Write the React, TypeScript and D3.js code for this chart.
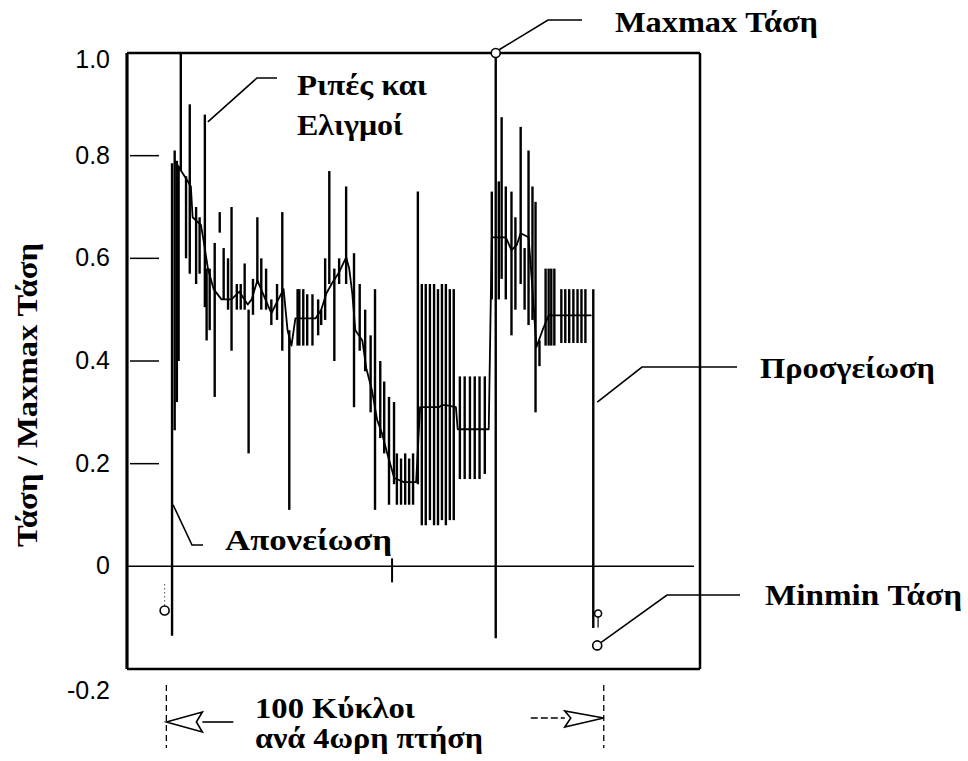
import * as d3 from "d3";

const width = 968;
const height = 761;

const yTicks = [1.0, 0.8, 0.6, 0.4, 0.2, 0, -0.2];
const yTickLabels = ["1.0", "0.8", "0.6", "0.4", "0.2", "0", "-0.2"];

// load cycles: position in cycles (100 = one 4h flight), peak and trough of each cycle
const rangeCycle = [
  1.3, 1.9, 2.4, 2.8, 3.3, 4.5, 5.35, 6.8, 7.6, 8.8, 9.2, 9.9, 11.05, 12.2, 13.1, 14.1, 14.9, 16.1, 17.0, 17.9,
  18.8, 19.8, 20.8, 21.7, 22.8, 24.0, 25.3, 26.5, 28.1, 30.0, 30.4, 31.3, 32.2, 33.4, 34.7, 35.4, 36.3, 37.25, 38.4, 39.5,
  41.1, 42.9, 44.2, 45.45, 46.7, 47.7, 48.9, 49.8, 50.9, 52.05, 52.7, 53.65, 54.6, 55.5, 56.4, 57.5, 58.4, 59.3, 60.25, 61.2,
  62.1, 63.0, 63.9, 64.8, 65.7, 67.1, 68.2, 69.4, 70.5, 71.6, 72.8, 74.4, 75.3, 76.0, 76.65, 77.6, 78.9, 79.8, 81.0, 81.9,
  82.8, 83.7, 84.4, 85.3, 86.7, 87.4, 88.0, 88.7, 90.3, 91.2, 92.1, 93.05, 94.0, 94.9, 95.8, 97.6,
];
const rangeHigh = [
  0.785, 0.81, 0.79, 0.78, 1.0, 0.76, 0.9, 0.7, 0.68, 0.88, 0.58, 0.58, 0.63, 0.69, 0.62, 0.6, 0.7, 0.55, 0.55, 0.59,
  0.5, 0.56, 0.68, 0.6, 0.58, 0.52, 0.55, 0.69, 0.46, 0.54, 0.54, 0.54, 0.53, 0.53, 0.52, 0.5, 0.6, 0.77, 0.58, 0.6,
  0.74, 0.61, 0.55, 0.5, 0.45, 0.54, 0.4, 0.36, 0.33, 0.32, 0.22, 0.21, 0.22, 0.21, 0.22, 0.73, 0.55, 0.55, 0.55, 0.55,
  0.54, 0.55, 0.55, 0.54, 0.54, 0.37, 0.37, 0.37, 0.37, 0.37, 0.37, 0.73, 1.0, 0.75, 0.875, 0.74, 0.73, 0.68, 0.856, 0.62,
  0.81, 0.74, 0.71, 0.44, 0.58, 0.58, 0.58, 0.58, 0.54, 0.54, 0.54, 0.54, 0.54, 0.54, 0.54, 0.54,
];
const rangeLow = [
  -0.135, 0.265, 0.32, 0.4, 0.77, 0.6, 0.57, 0.55, 0.57, 0.505, 0.44, 0.46, 0.33, 0.65, 0.52, 0.5, 0.42, 0.5, 0.5, 0.5,
  0.22, 0.49, 0.55, 0.5, 0.5, 0.47, 0.48, 0.42, 0.11, 0.43, 0.43, 0.43, 0.43, 0.43, 0.45, 0.47, 0.48, 0.55, 0.4, 0.55,
  0.55, 0.31, 0.42, 0.38, 0.3, 0.11, 0.25, 0.22, 0.12, 0.16, 0.12, 0.12, 0.12, 0.12, 0.12, 0.16, 0.08, 0.08, 0.09, 0.08,
  0.08, 0.09, 0.08, 0.09, 0.09, 0.17, 0.17, 0.17, 0.17, 0.17, 0.18, 0.52, -0.14, 0.52, 0.56, 0.52, 0.45, 0.5, 0.55, 0.5,
  0.47, 0.48, 0.3, 0.39, 0.43, 0.43, 0.43, 0.43, 0.435, 0.435, 0.435, 0.435, 0.435, 0.435, 0.435, -0.12,
];

// mean stress of the flight segments
const meanCycle = [
  1.9, 4.9, 5.6, 6.0, 7.9, 8.5, 9.5, 10.8, 12.6, 14.9, 16.7, 18.6, 19.5, 20.8, 22.4, 24.0, 25.9, 26.8, 27.7, 28.6,
  29.5, 34.1, 35.4, 36.6, 37.9, 39.5, 41.1, 41.8, 42.5, 43.2, 44.8, 45.7, 47.0, 48.2, 49.3, 50.5, 52.1, 54.3, 57.1, 58.0,
  62.3, 63.0, 63.9, 66.2, 66.6, 73.7, 74.4, 75.5, 77.6, 78.9, 80.1, 81.0, 82.8, 83.7, 84.6, 86.0, 87.4, 97.2,
];
const meanValue = [
  0.79, 0.75, 0.74, 0.68, 0.665, 0.635, 0.58, 0.54, 0.52, 0.52, 0.535, 0.51, 0.52, 0.557, 0.525, 0.493, 0.525, 0.54, 0.46, 0.43,
  0.483, 0.483, 0.5, 0.532, 0.552, 0.573, 0.602, 0.58, 0.532, 0.46, 0.44, 0.386, 0.343, 0.285, 0.259, 0.22, 0.172, 0.164, 0.164, 0.31,
  0.31, 0.314, 0.314, 0.31, 0.267, 0.267, 0.641, 0.641, 0.641, 0.616, 0.626, 0.649, 0.641, 0.54, 0.427, 0.46, 0.489, 0.489,
];

// marked extremes: ground point, maxmax, minmin, ground point after landing
const extremeCycle = [-0.4, 75.3, 98.5, 98.7];
const extremeValue = [-0.086, 1.0, -0.154, -0.092];

const midMarkCycle = 51.6;

const xScale = d3.scaleLinear().domain([-9, 122]).range([127, 700]);
const yScale = d3.scaleLinear().domain([-0.2, 1.0]).range([669, 53]);

const serif = "'Liberation Serif', 'Times New Roman', serif";
const sans = "'Liberation Sans', Arial, sans-serif";

function Label({ x, y, text, len }: { x: number; y: number; text: string; len: number }) {
  return (
    <text x={x} y={y} fontFamily={serif} fontWeight="bold" fontSize={30} textLength={len} lengthAdjust="spacingAndGlyphs">
      {text}
    </text>
  );
}

export default function App() {
  const meanPath = d3
    .line<number>()
    .x((_, i) => xScale(meanCycle[i]))
    .y((d) => yScale(d))(meanValue);

  const x0 = xScale(-9);
  const x1 = xScale(122);
  const yTop = yScale(1.0);
  const yBot = yScale(-0.2);
  const yZero = yScale(0);

  const maxX = xScale(extremeCycle[1]);
  const maxY = yScale(extremeValue[1]);
  const minX = xScale(extremeCycle[2]);
  const minY = yScale(extremeValue[2]);
  const gustX = xScale(8.8);
  const gustY = yScale(0.86);
  const toX = xScale(rangeCycle[0]);
  const toY = yScale(0.12);
  const ldX = xScale(rangeCycle[rangeCycle.length - 1]);
  const ldY = yScale(0.32);

  const bL = xScale(0);
  const bR = xScale(100);

  return (
    <svg width={width} height={height} style={{ position: "absolute", left: 0, top: 0, background: "#fff" }}>
      {/* plot frame */}
      <line x1={x0} x2={x1} y1={yTop} y2={yTop} stroke="#000" strokeWidth={2.5} />
      <line x1={x0} x2={x1} y1={yBot} y2={yBot} stroke="#000" strokeWidth={2.5} />
      <line x1={x0} x2={x0} y1={yTop} y2={yBot} stroke="#000" strokeWidth={3.2} />
      <line x1={x1} x2={x1} y1={yTop} y2={yBot} stroke="#000" strokeWidth={2.5} />
      <line x1={x0} x2={x1 - 6} y1={yZero} y2={yZero} stroke="#000" strokeWidth={1.5} />

      {/* y ticks */}
      {yTicks.map((t, i) => (
        <g key={`t-${t}`}>
          {t > 0 && t < 1 ? <line x1={x0 + 3} x2={x0 + 32} y1={yScale(t)} y2={yScale(t)} stroke="#000" strokeWidth={1.5} /> : null}
          <text
            x={110}
            y={yScale(t) + (t === 1 ? 15 : t < 0 ? 30 : 8)}
            textAnchor="end"
            fontFamily={sans}
            fontSize={25}
          >
            {yTickLabels[i]}
          </text>
        </g>
      ))}

      {/* load cycles */}
      {rangeCycle.map((c, i) => (
        <line key={`r-${i}`} x1={xScale(c)} x2={xScale(c)} y1={yScale(rangeHigh[i])} y2={yScale(rangeLow[i])} stroke="#000" strokeWidth={2.4} />
      ))}
      <path d={meanPath ?? ""} fill="none" stroke="#000" strokeWidth={1.8} strokeLinejoin="round" />

      <line x1={xScale(midMarkCycle)} x2={xScale(midMarkCycle)} y1={yZero - 8} y2={yZero + 16} stroke="#000" strokeWidth={2} />

      {/* extremes */}
      <line x1={xScale(extremeCycle[0])} x2={xScale(extremeCycle[0])} y1={yZero + 18} y2={yScale(extremeValue[0]) - 4} stroke="#000" strokeWidth={1} strokeDasharray="1 3" />
      <line x1={xScale(extremeCycle[3])} x2={xScale(extremeCycle[3])} y1={yScale(extremeValue[3]) + 3} y2={yScale(extremeValue[3]) + 14} stroke="#000" strokeWidth={1.2} />
      {extremeCycle.map((c, i) => (
        <circle key={`e-${i}`} cx={xScale(c)} cy={yScale(extremeValue[i])} r={i === 3 ? 3.5 : 4.5} fill="#fff" stroke="#000" strokeWidth={1.6} />
      ))}

      {/* annotations */}
      <polyline points={`${maxX + 3},${maxY - 3} 548,20 582,20`} fill="none" stroke="#000" strokeWidth={1.6} />
      <Label x={615} y={32} text="Maxmax Τάση" len={203} />

      <polyline points={`${gustX + 3},${gustY - 3} 257,78 277,78`} fill="none" stroke="#000" strokeWidth={1.6} />
      <Label x={297} y={95} text="Ριπές και" len={130} />
      <Label x={297} y={135} text="Ελιγμοί" len={106} />

      <polyline points={`${toX + 1},${toY} 192,545 203,545`} fill="none" stroke="#000" strokeWidth={1.6} />
      <Label x={225} y={550} text="Απονείωση" len={167} />

      <polyline points={`${ldX + 4},${ldY} 642,367 737,367`} fill="none" stroke="#000" strokeWidth={1.6} />
      <Label x={760} y={378} text="Προσγείωση" len={175} />

      <polyline points={`${minX + 4},${minY - 3} 667,595 740,595`} fill="none" stroke="#000" strokeWidth={1.6} />
      <Label x={765} y={605} text="Minmin Τάση" len={197} />

      {/* y title */}
      <text
        transform="translate(37, 395) rotate(-90)"
        textAnchor="middle"
        fontFamily={serif}
        fontWeight="bold"
        fontSize={30}
        textLength={304}
        lengthAdjust="spacingAndGlyphs"
      >
        Τάση / Maxmax Τάση
      </text>

      {/* flight length bracket */}
      <line x1={bL} x2={bL} y1={685} y2={748} stroke="#000" strokeWidth={1.3} strokeDasharray="6 4" />
      <line x1={bR} x2={bR} y1={685} y2={748} stroke="#000" strokeWidth={1.3} strokeDasharray="6 4" />
      <polygon points={`${bL},722 ${bL + 36},712 ${bL + 30},722 ${bL + 36},732`} fill="#fff" stroke="#000" strokeWidth={1.6} />
      <line x1={bL + 36} x2={bL + 67} y1={722} y2={722} stroke="#000" strokeWidth={1.6} />
      <polygon points={`${bR},718 ${bR - 39},711 ${bR - 33},718 ${bR - 39},727`} fill="#fff" stroke="#000" strokeWidth={1.6} />
      <line x1={bR - 73} x2={bR - 39} y1={718} y2={718} stroke="#000" strokeWidth={1.4} strokeDasharray="7 3" />
      <Label x={255} y={718} text="100 Κύκλοι" len={160} />
      <Label x={255} y={748} text="ανά 4ωρη πτήση" len={228} />
    </svg>
  );
}
